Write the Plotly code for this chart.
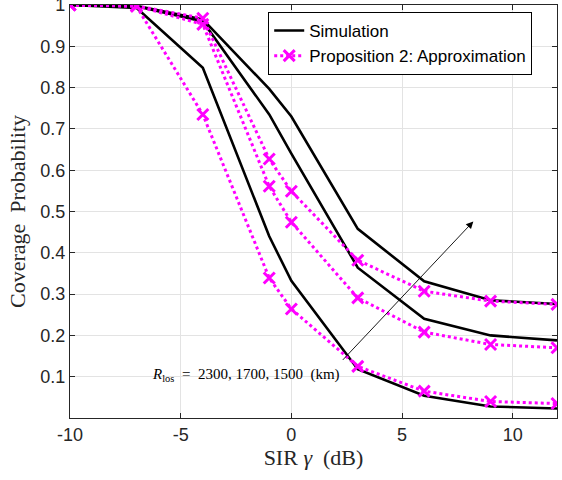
import plotly.graph_objects as go

sir_db = [-10, -7, -4, -1, 0, 3, 6, 9, 12]

sim_2300 = [1.0, 0.998, 0.965, 0.797, 0.730, 0.458, 0.331, 0.285, 0.276]
sim_1700 = [1.0, 0.997, 0.960, 0.735, 0.640, 0.364, 0.240, 0.200, 0.188]
sim_1500 = [1.0, 0.993, 0.848, 0.440, 0.332, 0.118, 0.054, 0.028, 0.023]

app_2300 = [1.0, 0.998, 0.968, 0.627, 0.549, 0.382, 0.307, 0.283, 0.275]
app_1700 = [1.0, 0.998, 0.953, 0.561, 0.474, 0.291, 0.208, 0.178, 0.170]
app_1500 = [1.0, 0.997, 0.735, 0.339, 0.264, 0.125, 0.065, 0.040, 0.035]

x_ticks = [-10, -5, 0, 5, 10]
x_ticklabels = ["-10", "-5", "0", "5", "10"]
y_ticks = [0.1, 0.2, 0.3, 0.4, 0.5, 0.6, 0.7, 0.8, 0.9, 1.0]
y_ticklabels = ["0.1", "0.2", "0.3", "0.4", "0.5", "0.6", "0.7", "0.8", "0.9", "1"]

fig = go.Figure()

for i, s in enumerate([sim_2300, sim_1700, sim_1500]):
    fig.add_trace(go.Scatter(
        x=sir_db, y=s, mode="lines", name="Simulation",
        line=dict(color="black", width=2.6),
        legendgroup="sim", showlegend=(i == 0)))

for i, s in enumerate([app_2300, app_1700, app_1500]):
    fig.add_trace(go.Scatter(
        x=sir_db, y=s, mode="lines+markers", name="Proposition 2: Approximation",
        line=dict(color="#ff00ff", width=3, dash="dot"),
        marker=dict(symbol="x-thin", size=11, color="#ff00ff",
                    line=dict(color="#ff00ff", width=3)),
        legendgroup="app", showlegend=(i == 0)))

fig.add_annotation(
    x=8.22, y=0.476, ax=2.26, ay=0.137, xref="x", yref="y", axref="x", ayref="y",
    showarrow=True, arrowhead=2, arrowsize=1.6, arrowwidth=0.9, arrowcolor="black", text="")

fig.add_annotation(
    x=2.3, y=0.105, xref="x", yref="y", xanchor="right", yanchor="middle",
    showarrow=False,
    text="<i>R</i><sub>los</sub>&nbsp;&nbsp;=&nbsp;&nbsp;2300,&nbsp;1700,&nbsp;1500&nbsp;&nbsp;(km)",
    font=dict(family="Liberation Serif", size=15, color="black"))

axis_common = dict(
    showgrid=True, gridcolor="#e3e3e3", gridwidth=1,
    showline=True, linecolor="#262626", linewidth=1.2, mirror="ticks",
    ticks="inside", ticklen=5, tickcolor="#262626",
    tickfont=dict(family="Liberation Sans", size=18, color="#262626"),
    ticklabeloverflow="allow", automargin=False,
    zeroline=False)

fig.update_xaxes(range=[-10, 12], tickvals=x_ticks, ticktext=x_ticklabels, **axis_common,
                 title=dict(text="SIR&nbsp;<i>γ</i>&nbsp;&nbsp;(dB)", standoff=4,
                            font=dict(family="Liberation Serif", size=22, color="#262626")))
fig.update_yaxes(range=[0, 1], tickvals=y_ticks, ticktext=y_ticklabels, **axis_common,
                 title=dict(text="Coverage&nbsp;&nbsp;Probability", standoff=8,
                            font=dict(family="Liberation Serif", size=22, color="#262626")))

fig.update_layout(
    width=562, height=480,
    margin=dict(l=70, r=5, t=5, b=62, autoexpand=False),
    plot_bgcolor="white", paper_bgcolor="white",
    legend=dict(x=0.407, y=0.983, xanchor="left", yanchor="top",
                bgcolor="white", bordercolor="black", borderwidth=1,
                font=dict(family="Liberation Sans", size=17, color="black"),
                tracegroupgap=0, itemwidth=30),
)

fig.write_html("out.html")
